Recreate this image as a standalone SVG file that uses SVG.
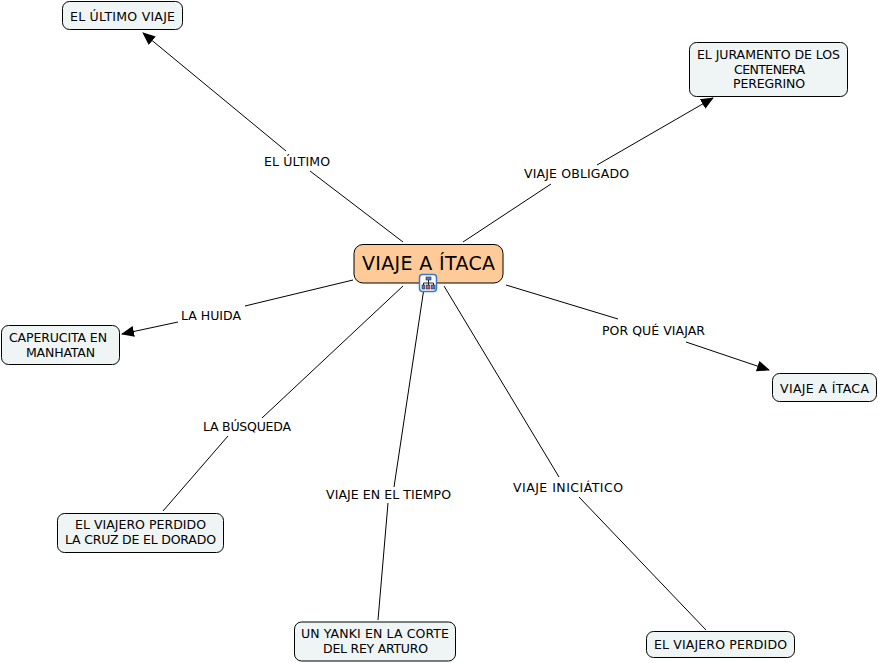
<svg xmlns="http://www.w3.org/2000/svg" width="878" height="663" viewBox="0 0 878 663">
<defs>
<marker id="arrow" viewBox="0 0 13 11" refX="12" refY="5.5" markerWidth="13" markerHeight="11" markerUnits="userSpaceOnUse" orient="auto"><path d="M0 0L13 5.5L0 11Z" fill="#000"/></marker>
</defs>
<style>
text{font-family:"DejaVu Sans",Verdana,sans-serif;font-size:12.500px;fill:#000;text-anchor:middle;lengthAdjust:spacing}
.n{fill:#eff5f5;stroke:#000;stroke-width:1}
.c{fill:none;stroke:#000;stroke-width:1}
.a{marker-end:url(#arrow)}
</style>
<rect width="878" height="663" fill="#fff"/>
<g id="connectors">
<path class="c" d="M403 242L310 171"/><path class="c a" d="M286 151L143 33"/>
<path class="c" d="M463 242L551 184"/><path class="c a" d="M597 165L713 98"/>
<path class="c" d="M353 280L245 306"/><path class="c a" d="M178 322L122 334"/>
<path class="c" d="M506 285L618 319"/>
<path class="c a" d="M686 342L769 370"/>
<path class="c" d="M403 286L262 418"/><path class="c" d="M228 436L163 511"/>
<path class="c" d="M424 288L394 487"/><path class="c" d="M388 503L378 620"/>
<path class="c" d="M444 286L559 477"/><path class="c" d="M579 497L706 630"/>
</g>
<g id="labels">
<text x="297" y="166" textLength="66">EL ÚLTIMO</text>
<text x="576.500" y="178" textLength="105">VIAJE OBLIGADO</text>
<text x="211" y="320" textLength="60">LA HUIDA</text>
<text x="653.500" y="335" textLength="103">POR QUÉ VIAJAR</text>
<text x="247" y="431" textLength="88">LA BÚSQUEDA</text>
<text x="388.500" y="499" textLength="125">VIAJE EN EL TIEMPO</text>
<text x="568" y="492" textLength="110">VIAJE INICIÁTICO</text>
</g>
<g id="n-central">
<rect x="354" y="244.500" width="149" height="38.500" rx="9" fill="#fecb98" stroke="#000"/>
<text x="428.500" y="270" style="font-size:19px" textLength="133">VIAJE A ÍTACA</text>
</g>
<g id="n-icon">
<rect x="419.500" y="274.500" width="17" height="17" rx="3" fill="#fff" stroke="#3a78c8" stroke-width="1.500"/>
<path d="M428.500 280V285M423.500 285V283H433.500V285" fill="none" stroke="#223" stroke-width="1"/>
<rect x="426" y="277" width="5" height="3" fill="#5a7ac0" stroke="#223" stroke-width=".6"/>
<rect x="422" y="285" width="3" height="4" fill="#5a7ac0" stroke="#223" stroke-width=".6"/>
<rect x="426.500" y="285" width="3.500" height="4" fill="#c05a7a" stroke="#223" stroke-width=".6"/>
<rect x="431.500" y="285" width="3.500" height="4" fill="#5a7ac0" stroke="#223" stroke-width=".6"/>
</g>
<g id="n-ultimo">
<rect class="n" x="62.500" y="1.500" width="120" height="28" rx="7"/>
<text x="122.500" y="20.500" textLength="105">EL ÚLTIMO VIAJE</text>
</g>
<g id="n-juramento">
<rect class="n" x="689.500" y="42.500" width="158" height="54" rx="7"/>
<text x="768.500" y="59" textLength="143">EL JURAMENTO DE LOS</text>
<text x="769.500" y="73.500" textLength="71">CENTENERA</text>
<text x="769" y="88" textLength="72">PEREGRINO</text>
</g>
<g id="n-caperucita">
<rect class="n" x="1.500" y="325.500" width="118" height="39" rx="7"/>
<text x="58" y="342" textLength="98">CAPERUCITA EN</text>
<text x="60.500" y="356.500" textLength="69">MANHATAN</text>
</g>
<g id="n-itaca">
<rect class="n" x="772.500" y="373.500" width="104" height="28" rx="7"/>
<text x="824.500" y="392.500" textLength="89">VIAJE A ÍTACA</text>
</g>
<g id="n-perdido-cruz">
<rect class="n" x="57.500" y="513.500" width="166" height="39" rx="7"/>
<text x="140.500" y="529" textLength="131">EL VIAJERO PERDIDO</text>
<text x="140.500" y="543.500" textLength="151">LA CRUZ DE EL DORADO</text>
</g>
<g id="n-yanki">
<rect class="n" x="294.500" y="622" width="161" height="39" rx="7"/>
<text x="375" y="638" textLength="148">UN YANKI EN LA CORTE</text>
<text x="375.500" y="652.500" textLength="105">DEL REY ARTURO</text>
</g>
<g id="n-perdido">
<rect class="n" x="646.500" y="631.500" width="148" height="26" rx="7"/>
<text x="720.500" y="649" textLength="133">EL VIAJERO PERDIDO</text>
</g>
</svg>
